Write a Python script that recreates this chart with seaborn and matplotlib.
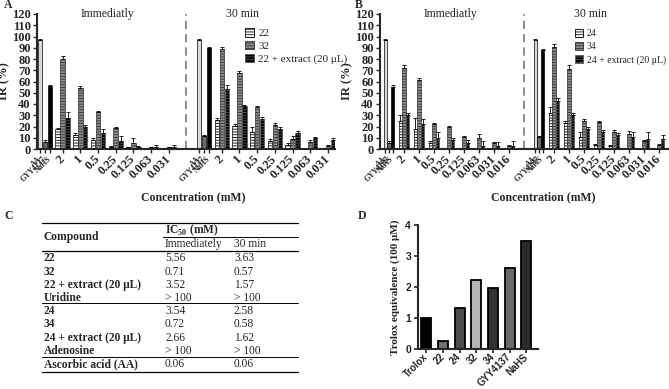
import matplotlib
matplotlib.use('Agg')
import matplotlib.pyplot as plt
from matplotlib.lines import Line2D
from matplotlib.patches import Patch
import numpy as np
import seaborn as sns

# Panel A - compounds 22 / 32
a_ctrl = ['AA', 'GYY4137', 'NaHS']
a_conc = ['2', '1', '0.5', '0.25', '0.125', '0.063', '0.031']
a_names = ['22', '32', '22 + extract (20 μL)']
a_imm_ctrl = [97, 6, 56]
a_imm_ctrl_err = [0.5, 2, 1]
a_imm_s1 = [17.5, 12.5, 8, 2, 1.5, 0, 0]
a_imm_s1_err = [1.5, 1.5, 1.5, 1, 0.5, 0, 0]
a_imm_s2 = [80, 54, 33, 19, 5.6, 1.5, 1.5]
a_imm_s2_err = [3, 2, 1, 1, 4, 0.5, 0.5]
a_imm_s3 = [28, 20, 14.6, 7, 2, 2, 2]
a_imm_s3_err = [4.5, 1.5, 3.5, 4.5, 1, 1.5, 1.5]
a_30_ctrl = [97, 11.5, 90]
a_30_ctrl_err = [0.5, 1, 1]
a_30_s1 = [26, 20.5, 15.5, 7, 3.5, 0, 0]
a_30_s1_err = [2, 2, 4, 1.5, 1.5, 0, 0]
a_30_s2 = [89, 67.5, 37, 21.5, 9, 6, 2.7]
a_30_s2_err = [2, 2, 1, 2, 3, 2, 1]
a_30_s3 = [53.5, 38, 27, 17.5, 14.6, 10, 8]
a_30_s3_err = [3, 1, 1.5, 2, 1, 1, 2]

# Panel B - compounds 24 / 34
b_conc = ['2', '1', '0.5', '0.25', '0.125', '0.063', '0.031', '0.016']
b_names = ['24', '34', '24 + extract (20 μL)']
b_imm_ctrl = [97, 5.6, 55.5]
b_imm_ctrl_err = [0.5, 1.5, 1]
b_imm_s1 = [25, 18, 5, 0.6, 0, 0, 0, 0]
b_imm_s1_err = [5, 10, 2, 0.5, 0, 0, 0, 0]
b_imm_s2 = [72, 61, 22, 20, 11, 9.5, 5, 3]
b_imm_s2_err = [3, 2, 1, 0.5, 1, 3.5, 1.5, 0.5]
b_imm_s3 = [30, 22, 10, 8, 5.6, 2.7, 3, 2.7]
b_imm_s3_err = [2, 5, 5, 2, 2, 4.5, 3.5, 4.5]
b_30_ctrl = [97, 10.5, 88]
b_30_ctrl_err = [0.5, 1, 1]
b_30_s1 = [32, 23, 11, 3.5, 3, 0, 0, 0]
b_30_s1_err = [5, 2, 4.5, 1, 1, 0, 0, 0]
b_30_s2 = [91, 71, 25, 24, 15, 13, 7, 3.5]
b_30_s2_err = [2, 4, 1.5, 1, 1.5, 3, 1, 1]
b_30_s3 = [43, 30, 18, 15.5, 12.5, 11, 9, 9]
b_30_s3_err = [2, 2, 1.5, 1.5, 2, 4, 6.5, 3.5]

# Panel C - IC50 table
c_compounds = ['22', '32', '22 + extract (20 μL)', 'Uridine',
               '24', '34', '24 + extract (20 μL)', 'Adenosine', 'Ascorbic acid (AA)']
c_immediately = ['5.56', '0.71', '3.52', '> 100', '3.54', '0.72', '2.66', '> 100', '0.06']
c_30min = ['3.63', '0.57', '1.57', '> 100', '2.58', '0.58', '1.62', '> 100', '0.06']

# Panel D - Trolox equivalence
d_labels = ['Trolox', '22', '24', '32', '34', 'GYY4137', 'NaHS']
d_values = [1.0, 0.27, 1.31, 2.21, 1.96, 2.62, 3.48]
d_colors = ['#000000', '#6f6f6f', '#4b4b4b', '#b4b4b4', '#333333', '#6a6a6a', '#2b2b2b']

W, H = 669, 389

sns.set_theme(style='ticks')
plt.rcParams['font.family'] = ['Liberation Serif', 'DejaVu Serif']
plt.rcParams['mathtext.fontset'] = 'custom'
plt.rcParams['mathtext.rm'] = 'Liberation Serif'
plt.rcParams['mathtext.bf'] = 'Liberation Serif:bold'
plt.rcParams['hatch.linewidth'] = 0.6


def fx(x):
    return x / W


def fy(y):
    return 1 - y / H


ctrl_colors = ['#dadada', '#6b6b6b', '#000000']
series_face = ['white', '#8c8c8c', '#000000']
series_edge = ['black', '#303030', '#5a5a5a']


def draw_panel(ax, conc, names, imm, m30, off, bw, xlim):
    n = len(conc)
    for base, (ctrl, ctrl_err, s1, e1, s2, e2, s3, e3) in [(0, imm), (n + 2, m30)]:
        xc = base + np.array([-off, 0, off])
        ax.bar(xc, ctrl, width=bw, color=ctrl_colors, edgecolor='black', linewidth=0.5)
        ax.errorbar(xc, ctrl, yerr=[np.zeros(3), ctrl_err], fmt='none', ecolor='black',
                    elinewidth=0.6, capsize=1.2, capthick=0.6)
        xs = base + 1 + np.arange(n)
        for k, (vals, errs) in enumerate([(s1, e1), (s2, e2), (s3, e3)]):
            xk = xs + (k - 1) * off
            ax.bar(xk, vals, width=bw, color=series_face[k], edgecolor=series_edge[k],
                   hatch='------', linewidth=0.5)
            ax.errorbar(xk, vals, yerr=[np.zeros(n), errs], fmt='none', ecolor='black',
                        elinewidth=0.6, capsize=1.2, capthick=0.6)
    ax.axvline(n + 1, color='#7a7a7a', lw=1.2, ls=(0, (5, 3)))
    ax.set_xlim(*xlim)
    ax.set_ylim(0, 120)
    ax.set_yticks(np.arange(0, 121, 10))
    ticks, labels = [], []
    for base in [0, n + 2]:
        ticks += [base - off, base, base + off]
        labels += a_ctrl
        ticks += list(base + 1 + np.arange(n))
        labels += conc
    ax.set_xticks(ticks)
    ax.set_xticklabels(labels, rotation=45, ha='right', va='center', rotation_mode='anchor')
    for i, t in enumerate(ax.get_xticklabels()):
        t.set_fontweight('bold')
        idx = i % (n + 3)
        t.set_fontsize(5.5 if idx < 3 else 9)
    for t in ax.get_yticklabels():
        t.set_fontweight('bold')
        t.set_fontsize(9)
    ax.tick_params(axis='both', length=3, width=1, pad=1.5)
    ax.tick_params(axis='x', pad=3)
    ax.set_ylabel('IR (%)', fontsize=9, fontweight='bold', labelpad=1)
    for s in ['left', 'bottom']:
        ax.spines[s].set_linewidth(1.5)
    sns.despine(ax=ax)
    handles = [Patch(facecolor=series_face[k], edgecolor=series_edge[k] if k else 'black',
                     hatch='------', linewidth=0.6) for k in range(3)]
    return handles


fig = plt.figure(figsize=(W / 100, H / 100), dpi=100)

axA = fig.add_axes([fx(37), fy(149), fx(335) - fx(37), fy(14) - fy(149)])
hA = draw_panel(axA, a_conc, a_names,
                (a_imm_ctrl, a_imm_ctrl_err, a_imm_s1, a_imm_s1_err, a_imm_s2, a_imm_s2_err,
                 a_imm_s3, a_imm_s3_err),
                (a_30_ctrl, a_30_ctrl_err, a_30_s1, a_30_s1_err, a_30_s2, a_30_s2_err,
                 a_30_s3, a_30_s3_err),
                off=0.28, bw=0.25, xlim=(-0.45, 16.4))
axA.legend(hA, a_names, loc='upper left', bbox_to_anchor=(fx(245), fy(28)),
           bbox_transform=fig.transFigure, frameon=False, fontsize=8,
           handlelength=0.8, handleheight=0.8, handletextpad=0.4, labelspacing=0.25,
           borderpad=0, borderaxespad=0)

axB = fig.add_axes([fx(380), fy(149), fx(668) - fx(380), fy(14) - fy(149)])
hB = draw_panel(axB, b_conc, b_names,
                (b_imm_ctrl, b_imm_ctrl_err, b_imm_s1, b_imm_s1_err, b_imm_s2, b_imm_s2_err,
                 b_imm_s3, b_imm_s3_err),
                (b_30_ctrl, b_30_ctrl_err, b_30_s1, b_30_s1_err, b_30_s2, b_30_s2_err,
                 b_30_s3, b_30_s3_err),
                off=0.25, bw=0.21, xlim=(-0.6, 18.6))
axB.legend(hB, b_names, loc='upper left', bbox_to_anchor=(fx(575), fy(29)),
           bbox_transform=fig.transFigure, frameon=False, fontsize=7,
           handlelength=0.85, handleheight=0.85, handletextpad=0.35, labelspacing=0.4,
           borderpad=0, borderaxespad=0)

# titles / labels for A and B
for x, s in [(107, 'Immediatly'), (242, '30 min'), (450, 'Immediatly'), (590, '30 min')]:
    fig.text(fx(x), fy(14), s, ha='center', va='center', fontsize=8.5)
for x in [193, 543]:
    fig.text(fx(x), fy(197), 'Concentration (mM)', ha='center', va='center',
             fontsize=8.5, fontweight='bold')

# Panel C table
tl, tr = 42, 298


def hline(y, x0=tl, x1=tr, lw=0.9):
    fig.add_artist(Line2D([fx(x0), fx(x1)], [fy(y), fy(y)], color='black', lw=lw,
                          transform=fig.transFigure))


hline(223)
hline(237, x0=163, lw=0.7)
hline(251)
hline(303, lw=0.7)
hline(357, lw=0.7)
hline(372)
fs = 8.3
fig.text(fx(44), fy(237), 'Compound', ha='left', va='center', fontsize=fs, fontweight='bold')
fig.text(fx(165), fy(230), r'IC$_\mathbf{50}$ (mM)', ha='left', va='center', fontsize=fs,
         fontweight='bold')
fig.text(fx(165), fy(244), 'Immediately', ha='left', va='center', fontsize=fs)
fig.text(fx(234), fy(244), '30 min', ha='left', va='center', fontsize=fs)
row_y = [258, 272, 285, 298, 311, 324, 338, 351, 364]
for y, c, v1, v2 in zip(row_y, c_compounds, c_immediately, c_30min):
    fig.text(fx(44), fy(y), c, ha='left', va='center', fontsize=fs, fontweight='bold')
    fig.text(fx(165), fy(y), v1, ha='left', va='center', fontsize=fs)
    fig.text(fx(234), fy(y), v2, ha='left', va='center', fontsize=fs)

# Panel D
axD = fig.add_axes([fx(418), fy(349), fx(538) - fx(418), fy(225) - fy(349)])
sns.barplot(x=d_labels, y=d_values, hue=d_labels, palette=d_colors, legend=False,
            edgecolor='black', linewidth=1.3, width=0.6, ax=axD)
axD.set_xlim(-0.5, 6.7)
axD.set_ylim(0, 4)
axD.set_yticks([0, 1, 2, 3, 4])
axD.set_xticks(range(len(d_labels)))
axD.set_xticklabels(d_labels, rotation=45, ha='right', va='center', rotation_mode='anchor',
                    family='Liberation Sans', fontweight='bold', fontsize=7)
for t in axD.get_yticklabels():
    t.set_family('Liberation Sans')
    t.set_fontweight('bold')
    t.set_fontsize(7.5)
axD.tick_params(axis='both', length=3, width=1.2, pad=2)
axD.tick_params(axis='x', pad=1.5)
axD.set_ylabel('Trolox equivalence (100 μM)', fontsize=8, fontweight='bold', labelpad=4)
for s in ['left', 'bottom']:
    axD.spines[s].set_linewidth(1.5)
sns.despine(ax=axD)

# panel letters
for x, y, s in [(4, 5, 'A'), (355, 5, 'B'), (4, 216, 'C'), (358, 216, 'D')]:
    fig.text(fx(x), fy(y), s, ha='left', va='center', fontsize=8.5, fontweight='bold')

fig.savefig('out.png', dpi=100)
